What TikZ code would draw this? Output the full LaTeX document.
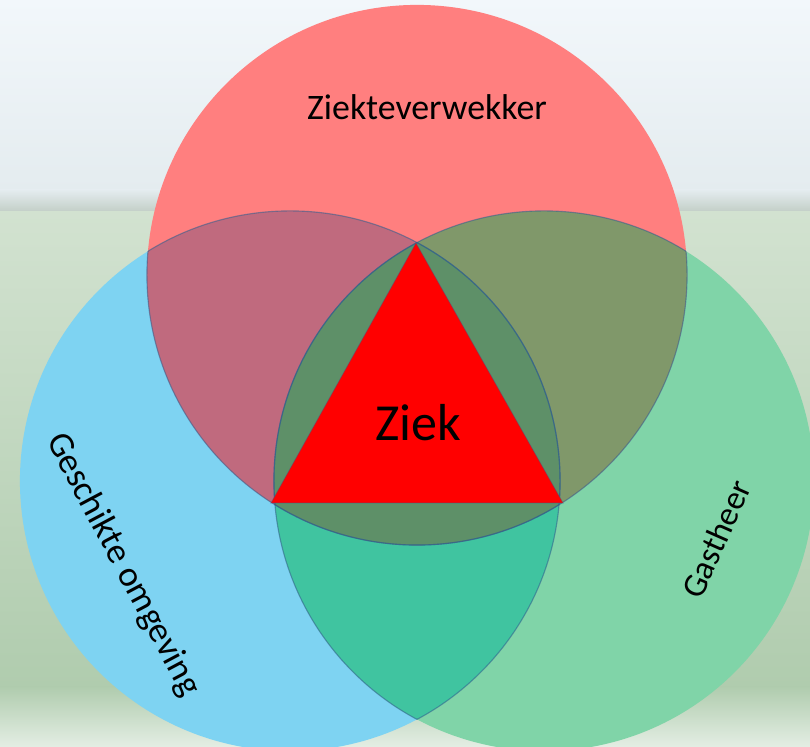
\documentclass[tikz,border=0pt]{standalone}
\usepackage{fontspec}
\setmainfont{Carlito}
\usetikzlibrary{positioning,calc}
\definecolor{skytop}  {HTML}{F2F7FB}
\definecolor{skylow}  {HTML}{E4ECEF}
\definecolor{haze}    {HTML}{C2CEC6}
\definecolor{field}   {HTML}{D2E2D0}
\definecolor{fieldlow}{HTML}{B0CCAE}
\definecolor{groundlt}{HTML}{E4EEE4}
\definecolor{redc}    {HTML}{FF7F7F}
\definecolor{bluec}   {HTML}{7ED3F2}
\definecolor{greenc}  {HTML}{80D4A8}
\definecolor{rbc}     {HTML}{C06A7E}
\definecolor{rgc}     {HTML}{80986A}
\definecolor{bgc}     {HTML}{40C4A0}
\definecolor{allc}    {HTML}{5E9068}
\definecolor{rim}     {HTML}{2F5F8F}
\tikzset{
  % --- text
  lbl/.style = {font=\fontsize{25.5}{30}\selectfont, text=black, inner sep=0pt},
  big/.style = {font=\fontsize{37}{42}\selectfont, text=black, inner sep=0pt},
  % --- lines
  rimline/.style = {draw=rim, draw opacity=0.55, line width=0.8pt},
}
\def\R{6.75cm}

\begin{document}
\begin{tikzpicture}[x=0.025cm,y=0.025cm]
  \useasboundingbox (0,0) rectangle (810,747);
  % background photo, roughly
  \shade[top color=skytop, bottom color=skylow] (0,557) rectangle (810,747);
  \shade[top color=skylow, bottom color=haze] (0,535) rectangle (810,557);
  \shade[top color=field, bottom color=fieldlow] (0,60) rectangle (810,535);
  \shade[top color=fieldlow, bottom color=groundlt] (0,0) rectangle (810,60);

  \coordinate (cr) at (417,472);
  \coordinate (cb) at (290,266);
  \coordinate (cg) at (544,266);

  \fill[bluec]  (cb) circle[radius=\R];
  \fill[greenc] (cg) circle[radius=\R];
  \fill[redc]   (cr) circle[radius=\R];
  \begin{scope}
    \clip (cb) circle[radius=\R];
    \fill[bgc] (cg) circle[radius=\R];
  \end{scope}
  \begin{scope}
    \clip (cr) circle[radius=\R];
    \fill[rbc] (cb) circle[radius=\R];
    \fill[rgc] (cg) circle[radius=\R];
    \clip (cb) circle[radius=\R];
    \fill[allc] (cg) circle[radius=\R];
  \end{scope}
  \foreach \a/\b in {cr/cb,cr/cg,cb/cr,cb/cg,cg/cr,cg/cb}{
    \begin{scope}
      \clip (\b) circle[radius=\R];
      \draw[rimline] (\a) circle[radius=\R];
    \end{scope}
  }

  % triangle
  \coordinate (tt) at (416,504);
  \coordinate (tl) at (271,244);
  \coordinate (tr) at (563,244);
  \fill[red] (tt) -- (tl) -- (tr) -- cycle;
  \draw[rimline, draw opacity=0.3] (tt) -- (tl) -- (tr) -- cycle;

  \node[lbl] (zv) at (427,640) {Ziekteverwekker};
  \node[lbl, rotate=-62] (go) at (123,182) {Geschikte omgeving};
  \node[lbl, rotate=66, font=\fontsize{24}{28}\selectfont] (gh) at (716,208) {Gastheer};
  \node[big] (ziek) at (418,324) {Ziek};
\end{tikzpicture}
\end{document}
